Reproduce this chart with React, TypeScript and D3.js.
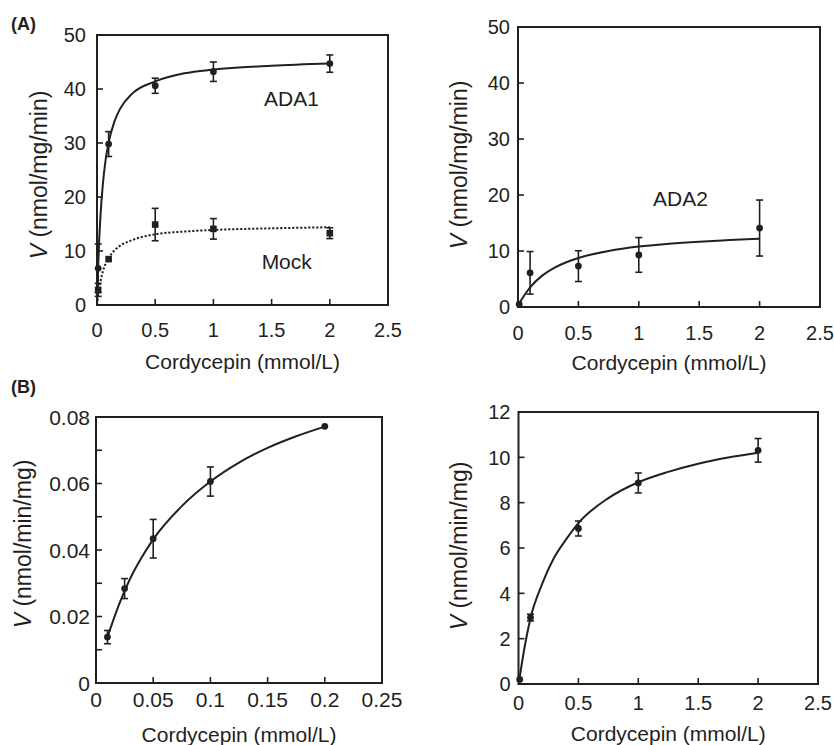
import * as d3 from 'd3'

const FONT = '"Liberation Sans", Arial, Helvetica, sans-serif'
const INK = '#231f20'

// (A) left panel: ADA1 and Mock
const aConc = [0.01, 0.1, 0.5, 1, 2]
const ada1V = [6.8, 29.8, 40.6, 43.2, 44.7]
const ada1Err = [4.5, 2.3, 1.4, 1.8, 1.6]
const mockV = [2.8, 8.5, 14.9, 14.1, 13.3]
const mockErr = [1.2, 0, 3.0, 1.9, 1.0]
const aFitX = [0, 0.01, 0.02, 0.03, 0.05, 0.075, 0.1, 0.15, 0.2, 0.3, 0.5, 0.75, 1, 1.5, 2]
const ada1FitY = [0, 7.3, 12.6, 16.6, 22.3, 27.0, 30.1, 34.0, 36.4, 39.1, 41.4, 42.9, 43.6, 44.3, 44.7]
const mockFitY = [0, 1.85, 3.3, 4.4, 6.2, 7.7, 8.7, 10.1, 11.0, 12.0, 13.1, 13.6, 13.9, 14.2, 14.4]

// (A) right panel: ADA2
const ada2Conc = [0.01, 0.1, 0.5, 1, 2]
const ada2V = [0.5, 6.1, 7.3, 9.3, 14.1]
const ada2Err = [0, 3.8, 2.75, 3.1, 5.0]
const ada2FitX = [0, 0.05, 0.1, 0.2, 0.3, 0.4, 0.5, 0.75, 1, 1.25, 1.5, 1.75, 2]
const ada2FitY = [0.3, 2.0, 3.5, 5.6, 7.0, 8.0, 8.75, 10.0, 10.8, 11.3, 11.67, 11.95, 12.2]

// (B) left panel
const bLConc = [0.01, 0.025, 0.05, 0.1, 0.2]
const bLV = [0.0138, 0.0284, 0.0434, 0.0606, 0.0772]
const bLErr = [0.002, 0.003, 0.0058, 0.0044, 0]
const bLFitX = [0.01, 0.02, 0.03, 0.04, 0.05, 0.075, 0.1, 0.125, 0.15, 0.175, 0.2]
const bLFitY = [0.0138, 0.0235, 0.0315, 0.0378, 0.0432, 0.0532, 0.0606, 0.0663, 0.0707, 0.0742, 0.0771]

// (B) right panel
const bRConc = [0.01, 0.1, 0.5, 1, 2]
const bRV = [0.2, 2.93, 6.86, 8.87, 10.31]
const bRErr = [0, 0.15, 0.33, 0.44, 0.52]
const bRFitX = [0.01, 0.05, 0.1, 0.2, 0.3, 0.4, 0.5, 0.75, 1, 1.25, 1.5, 1.75, 2]
const bRFitY = [0.3, 1.6, 2.9, 4.45, 5.6, 6.4, 7.1, 8.2, 8.9, 9.36, 9.72, 9.99, 10.2]

// ticks
const mmolTicks = [0, 0.5, 1, 1.5, 2, 2.5]
const mmolTickLabels = ['0', '0.5', '1', '1.5', '2', '2.5']
const vTicks50 = [0, 10, 20, 30, 40, 50]
const vTickLabels50 = ['0', '10', '20', '30', '40', '50']
const smallXTicks = [0, 0.05, 0.1, 0.15, 0.2, 0.25]
const smallXTickLabels = ['0', '0.05', '0.1', '0.15', '0.2', '0.25']
const smallYTicks = [0, 0.02, 0.04, 0.06, 0.08]
const smallYTickLabels = ['0', '0.02', '0.04', '0.06', '0.08']
const smallYMinor = [0.01, 0.03, 0.05, 0.07]
const v12Ticks = [0, 2, 4, 6, 8, 10, 12]
const v12TickLabels = ['0', '2', '4', '6', '8', '10', '12']

type Series = {
  x: number[]
  y: number[]
  err: number[]
  marker: 'circle' | 'square'
  fitX: number[]
  fitY: number[]
  dashed?: boolean
}

type PanelProps = {
  left: number
  right: number
  top: number
  bottom: number
  xDomain: [number, number]
  yDomain: [number, number]
  xTicks: number[]
  xTickLabels: string[]
  yTicks: number[]
  yTickLabels: string[]
  yMinor?: number[]
  xLabelY: number
  yLabelGap: number
  xTitleY: number
  yTitleX: number
  yTitleShift?: number
  yUnit: string
  fontSize: number
  series: Series[]
  notes?: { text: string; x: number; y: number }[]
}

function Panel(p: PanelProps) {
  const x = d3.scaleLinear().domain(p.xDomain).range([p.left, p.right])
  const y = d3.scaleLinear().domain(p.yDomain).range([p.bottom, p.top])
  const tick = 6
  const line = d3
    .line<[number, number]>()
    .x(d => x(d[0]))
    .y(d => y(d[1]))
    .curve(d3.curveMonotoneX)
  const cx = (p.left + p.right) / 2
  const cy = (p.top + p.bottom) / 2 + (p.yTitleShift || 0)

  return (
    <g fontFamily={FONT} fill={INK}>
      {/* fitted curves */}
      {p.series.map((s, i) => (
        <path
          key={'fit' + i}
          d={line(s.fitX.map((v, j) => [v, s.fitY[j]] as [number, number])) || ''}
          fill="none"
          stroke={INK}
          strokeWidth={2}
          strokeDasharray={s.dashed ? '2.2,1.8' : undefined}
        />
      ))}

      {/* error bars and points */}
      {p.series.map((s, i) => (
        <g key={'pts' + i}>
          {s.x.map((v, j) => {
            const px = x(v)
            const py = y(s.y[j])
            const e = s.err[j]
            return (
              <g key={j}>
                {e > 0 && (
                  <g stroke={INK} strokeWidth={1.6}>
                    <line x1={px} x2={px} y1={y(s.y[j] - e)} y2={y(s.y[j] + e)} />
                    <line x1={px - 3.5} x2={px + 3.5} y1={y(s.y[j] + e)} y2={y(s.y[j] + e)} />
                    <line x1={px - 3.5} x2={px + 3.5} y1={y(s.y[j] - e)} y2={y(s.y[j] - e)} />
                  </g>
                )}
                {s.marker === 'circle' ? (
                  <circle cx={px} cy={py} r={3.4} fill={INK} />
                ) : (
                  <rect x={px - 3.3} y={py - 3.3} width={6.6} height={6.6} fill={INK} />
                )}
              </g>
            )
          })}
        </g>
      ))}

      {/* frame */}
      <rect
        x={p.left}
        y={p.top}
        width={p.right - p.left}
        height={p.bottom - p.top}
        fill="none"
        stroke={INK}
        strokeWidth={2}
      />

      {/* x ticks */}
      {p.xTicks.map((t, i) => (
        <g key={'xt' + i}>
          {i > 0 && i < p.xTicks.length - 1 && (
            <line x1={x(t)} x2={x(t)} y1={p.bottom} y2={p.bottom - tick} stroke={INK} strokeWidth={1.6} />
          )}
          <text x={x(t)} y={p.xLabelY} fontSize={p.fontSize} textAnchor="middle">
            {p.xTickLabels[i]}
          </text>
        </g>
      ))}

      {/* y ticks */}
      {p.yTicks.map((t, i) => (
        <g key={'yt' + i}>
          {i > 0 && i < p.yTicks.length - 1 && (
            <line x1={p.left} x2={p.left + tick} y1={y(t)} y2={y(t)} stroke={INK} strokeWidth={1.6} />
          )}
          <text
            x={p.left - p.yLabelGap}
            y={y(t)}
            dy="0.36em"
            fontSize={p.fontSize}
            textAnchor="end"
          >
            {p.yTickLabels[i]}
          </text>
        </g>
      ))}
      {(p.yMinor || []).map((t, i) => (
        <line key={'ym' + i} x1={p.left} x2={p.left + tick} y1={y(t)} y2={y(t)} stroke={INK} strokeWidth={1.6} />
      ))}

      {/* axis titles */}
      <text x={cx} y={p.xTitleY} fontSize={21} textAnchor="middle">
        Cordycepin (mmol/L)
      </text>
      <text
        transform={`translate(${p.yTitleX},${cy}) rotate(-90)`}
        dy="0.36em"
        fontSize={23}
        textAnchor="middle"
      >
        <tspan fontStyle="italic">V</tspan> {p.yUnit}
      </text>

      {/* series labels */}
      {(p.notes || []).map((n, i) => (
        <text key={'n' + i} x={x(n.x)} y={y(n.y)} fontSize={21} textAnchor="middle">
          {n.text}
        </text>
      ))}
    </g>
  )
}

export default function App() {
  return (
    <svg
      width={834}
      height={745}
      style={{ position: 'absolute', left: 0, top: 0, background: '#fff' }}
    >
      <rect width={834} height={745} fill="#fff" />

      <text x={11} y={30} fontFamily={FONT} fontWeight="bold" fontSize={18} fill={INK}>
        (A)
      </text>
      <text x={11} y={393} fontFamily={FONT} fontWeight="bold" fontSize={18} fill={INK}>
        (B)
      </text>

      <Panel
        left={97}
        right={388}
        top={35}
        bottom={305}
        xDomain={[0, 2.5]}
        yDomain={[0, 50]}
        xTicks={mmolTicks}
        xTickLabels={mmolTickLabels}
        yTicks={vTicks50}
        yTickLabels={vTickLabels50}
        xLabelY={337}
        yLabelGap={11}
        xTitleY={369}
        yTitleX={39}
        yTitleShift={5}
        yUnit="(nmol/mg/min)"
        fontSize={20}
        series={[
          { x: aConc, y: ada1V, err: ada1Err, marker: 'circle', fitX: aFitX, fitY: ada1FitY },
          { x: aConc, y: mockV, err: mockErr, marker: 'square', fitX: aFitX, fitY: mockFitY, dashed: true },
        ]}
        notes={[
          { text: 'ADA1', x: 1.67, y: 36.8 },
          { text: 'Mock', x: 1.63, y: 6.7 },
        ]}
      />

      <Panel
        left={518}
        right={820}
        top={27}
        bottom={307}
        xDomain={[0, 2.5]}
        yDomain={[0, 50]}
        xTicks={mmolTicks}
        xTickLabels={mmolTickLabels}
        yTicks={vTicks50}
        yTickLabels={vTickLabels50}
        xLabelY={340}
        yLabelGap={8}
        xTitleY={370}
        yTitleX={459}
        yTitleShift={-2}
        yUnit="(nmol/mg/min)"
        fontSize={20}
        series={[
          { x: ada2Conc, y: ada2V, err: ada2Err, marker: 'circle', fitX: ada2FitX, fitY: ada2FitY },
        ]}
        notes={[{ text: 'ADA2', x: 1.345, y: 18.1 }]}
      />

      <Panel
        left={96}
        right={382}
        top={417}
        bottom={683}
        xDomain={[0, 0.25]}
        yDomain={[0, 0.08]}
        xTicks={smallXTicks}
        xTickLabels={smallXTickLabels}
        yTicks={smallYTicks}
        yTickLabels={smallYTickLabels}
        yMinor={smallYMinor}
        xLabelY={707}
        yLabelGap={6}
        xTitleY={742}
        yTitleX={23}
        yTitleShift={-6}
        yUnit="(nmol/min/mg)"
        fontSize={21}
        series={[
          { x: bLConc, y: bLV, err: bLErr, marker: 'circle', fitX: bLFitX, fitY: bLFitY },
        ]}
      />

      <Panel
        left={518.5}
        right={818}
        top={412}
        bottom={684}
        xDomain={[0, 2.5]}
        yDomain={[0, 12]}
        xTicks={mmolTicks}
        xTickLabels={mmolTickLabels}
        yTicks={v12Ticks}
        yTickLabels={v12TickLabels}
        xLabelY={710}
        yLabelGap={8}
        xTitleY={741}
        yTitleX={459}
        yTitleShift={-2}
        yUnit="(nmol/min/mg)"
        fontSize={20}
        series={[
          { x: bRConc, y: bRV, err: bRErr, marker: 'circle', fitX: bRFitX, fitY: bRFitY },
        ]}
      />
    </svg>
  )
}
